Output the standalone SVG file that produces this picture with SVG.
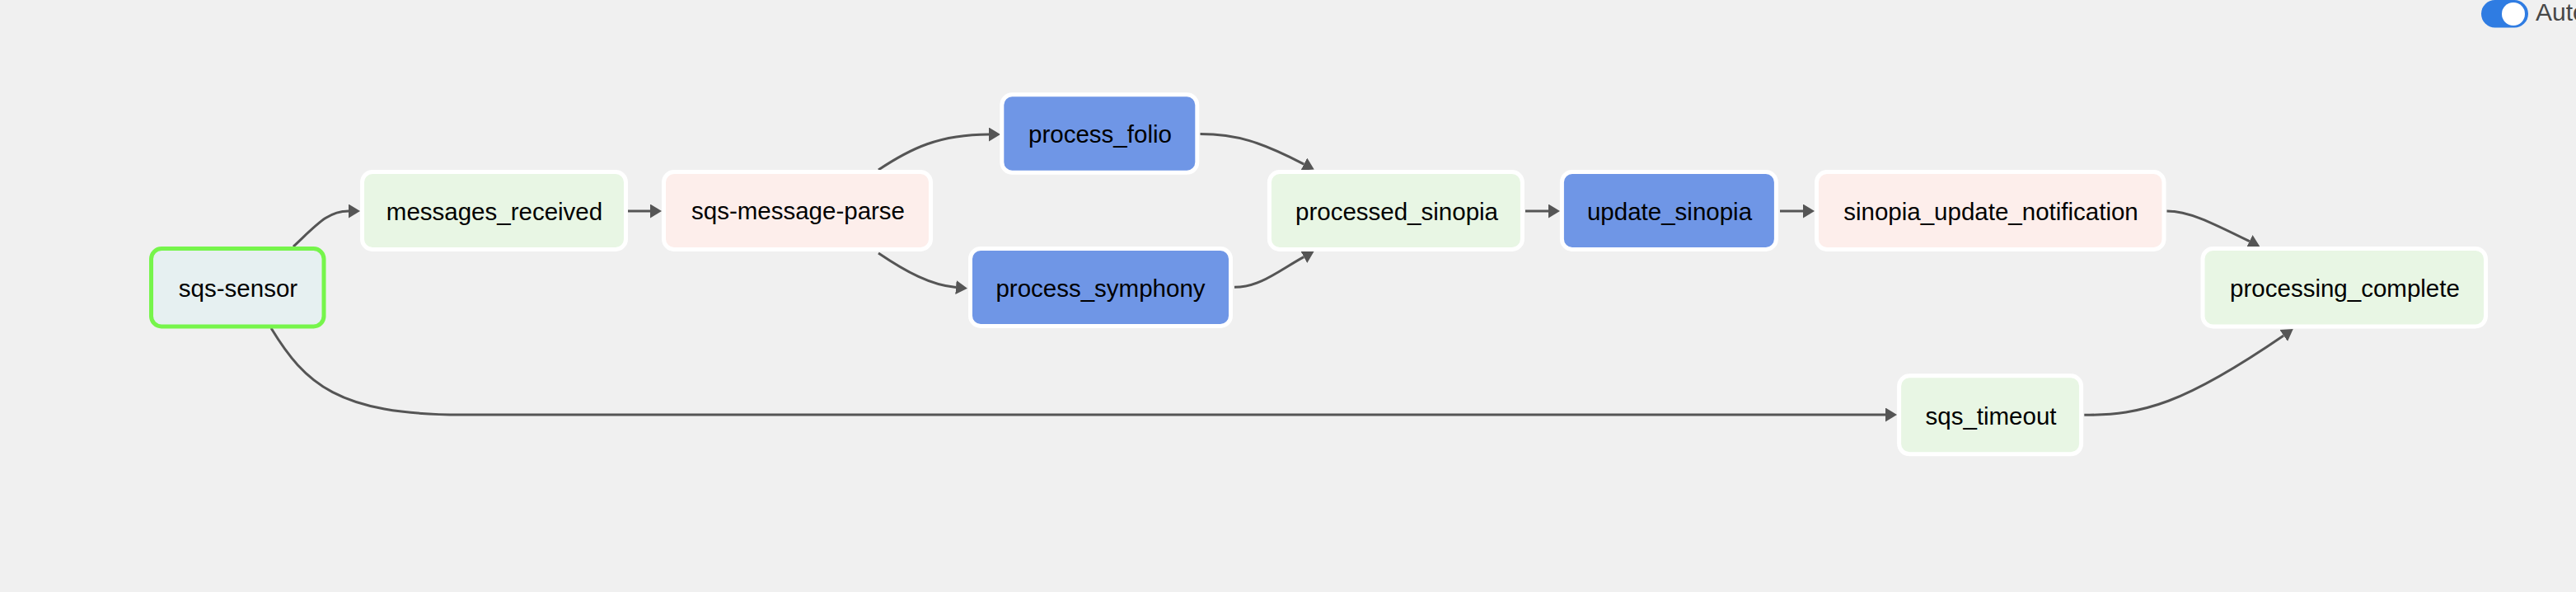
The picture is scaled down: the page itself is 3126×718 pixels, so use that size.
<svg xmlns="http://www.w3.org/2000/svg" width="3126" height="718" viewBox="0 0 3126 718">
  <style>
    .node rect { stroke: #ffffff; stroke-width: 5; }
    .node text { font-family: "Liberation Sans", Arial, sans-serif; font-size: 29.5px; fill: #000000; text-anchor: middle; }
    .dummy rect { fill: #e8f6e4; }
    .python rect { fill: #fdeeeb; }
    .group rect { fill: #6f96e6; }
    .sensor rect { fill: #e6f0f1; stroke: #76f54b; }
    .edges path { fill: none; stroke: #555555; stroke-width: 3; marker-end: url(#arrow); }
    .toggle-label { font-family: "Liberation Sans", Arial, sans-serif; font-size: 30px; fill: #474747; }
  </style>
  <defs>
    <marker id="arrow" markerUnits="userSpaceOnUse" markerWidth="16" markerHeight="18" refX="0" refY="8.5" orient="auto">
      <path d="M0,0 L14,8.5 L0,17 Z" fill="#555555"/>
    </marker>
  </defs>
  <rect x="0" y="0" width="3126" height="718" fill="#f0f0f0"/>

  <g id="edges" class="edges">
    <path id="e-sensor-received" d="M356,299 C385,272 398,256 423,256"/>
    <path id="e-received-parse" d="M762,256 L789,256"/>
    <path id="e-parse-folio" d="M1066,206 C1105,180 1140,163 1200,163"/>
    <path id="e-parse-symphony" d="M1066,307 C1100,330 1130,346 1160,348.5"/>
    <path id="e-folio-processed" d="M1456.5,162.5 C1500,162.5 1530,172 1582.3,199.1"/>
    <path id="e-symphony-processed" d="M1498,348.3 C1530,348 1552,328 1582.2,311.6"/>
    <path id="e-processed-update" d="M1851,256 L1879,256"/>
    <path id="e-update-notification" d="M2160,256 L2188,256"/>
    <path id="e-notification-complete" d="M2629.5,256 C2655,256 2680,268 2729.8,292.7"/>
    <path id="e-sensor-timeout" d="M329,398 C370,465 410,503 560,503 L2288,503"/>
    <path id="e-timeout-complete" d="M2529.3,503.3 C2600,503.3 2650,490 2771.2,407"/>
  </g>

  <g id="node-sqs-sensor" class="node sensor">
    <rect x="183.5" y="301.5" width="209.5" height="94.5" rx="12.5"/>
    <text x="289" y="360">sqs-sensor</text>
  </g>
  <g id="node-messages_received" class="node dummy">
    <rect x="439.5" y="208.5" width="320" height="94" rx="12.5"/>
    <text x="600" y="267">messages_received</text>
  </g>
  <g id="node-sqs-message-parse" class="node python">
    <rect x="805.5" y="208.5" width="324" height="94" rx="12.5"/>
    <text x="968.5" y="266">sqs-message-parse</text>
  </g>
  <g id="node-process_folio" class="node group">
    <rect x="1215.8" y="114.8" width="237" height="94.5" rx="12.5"/>
    <text x="1335" y="173.3">process_folio</text>
  </g>
  <g id="node-process_symphony" class="node group">
    <rect x="1177.5" y="301.5" width="316" height="94" rx="12.5"/>
    <text x="1335.5" y="359.5">process_symphony</text>
  </g>
  <g id="node-processed_sinopia" class="node dummy">
    <rect x="1540.4" y="208.5" width="307" height="94" rx="12.5"/>
    <text x="1695" y="267">processed_sinopia</text>
  </g>
  <g id="node-update_sinopia" class="node group">
    <rect x="1895.4" y="208.5" width="260" height="94" rx="12.5"/>
    <text x="2026" y="267">update_sinopia</text>
  </g>
  <g id="node-sinopia_update_notification" class="node python">
    <rect x="2204.5" y="208.5" width="421.5" height="94" rx="12.5"/>
    <text x="2416" y="267">sinopia_update_notification</text>
  </g>
  <g id="node-processing_complete" class="node dummy">
    <rect x="2673" y="301.5" width="343.5" height="94.5" rx="12.5"/>
    <text x="2845.5" y="360">processing_complete</text>
  </g>
  <g id="node-sqs_timeout" class="node dummy">
    <rect x="2304.6" y="455.8" width="221" height="95" rx="12.5"/>
    <text x="2416" y="515">sqs_timeout</text>
  </g>

  <g id="auto-toggle">
    <rect x="3011" y="0" width="57" height="33.5" rx="16.75" fill="#2f7ce2"/>
    <circle cx="3050" cy="17" r="14" fill="#ffffff"/>
    <text class="toggle-label" x="3077" y="25">Auto</text>
  </g>
</svg>
